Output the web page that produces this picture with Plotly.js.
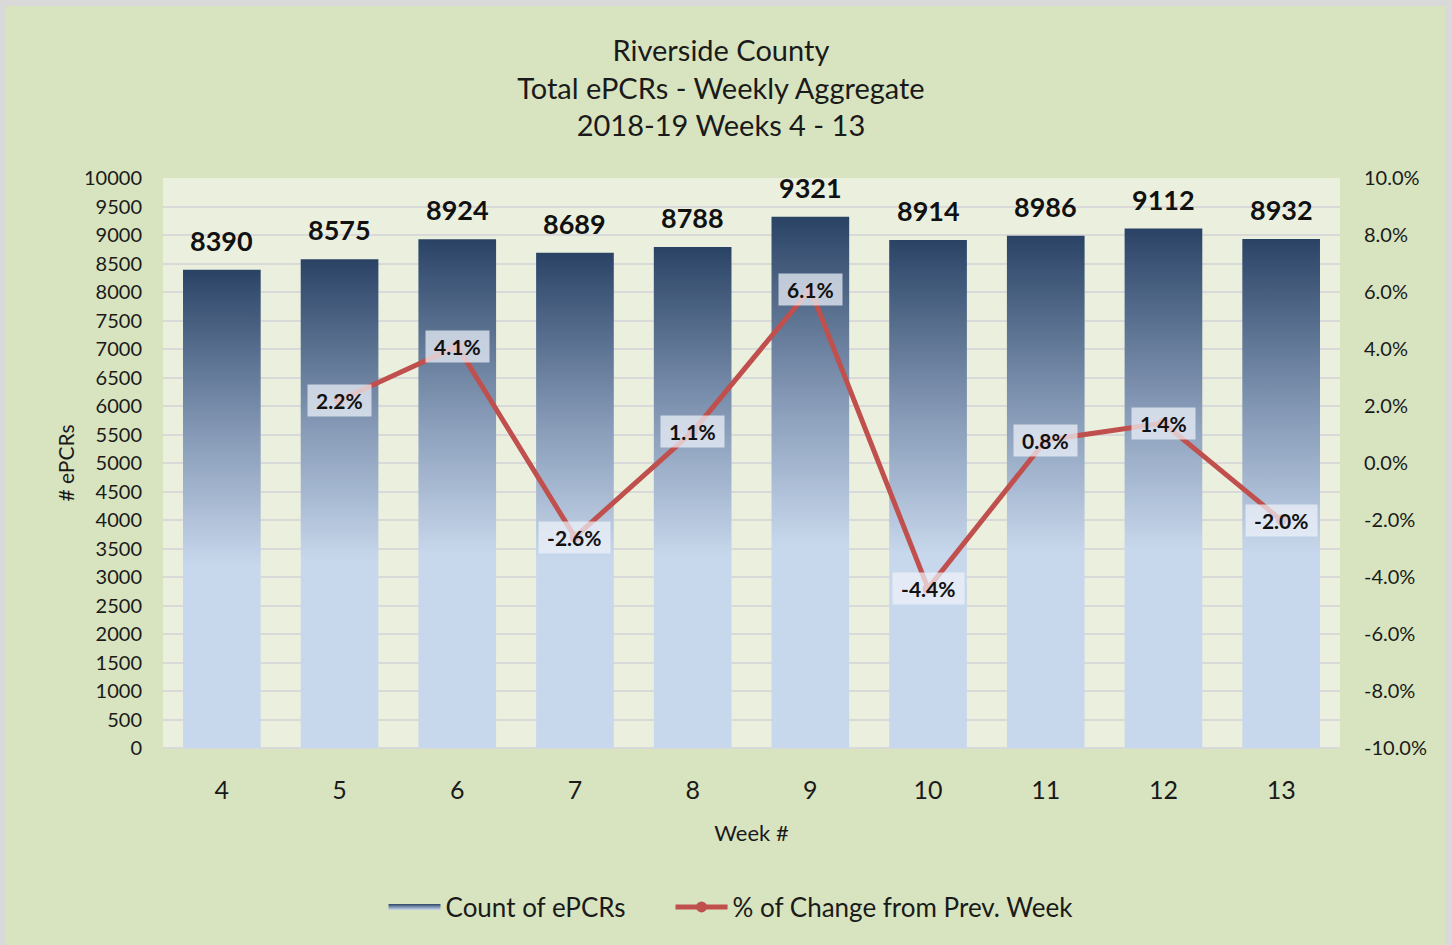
<!DOCTYPE html>
<html>
<head>
<meta charset="utf-8">
<script src="https://cdn.plot.ly/plotly-3.0.1.min.js"></script>
<style>
  html, body { margin: 0; padding: 0; background: #d9d9d9; width: 1452px; height: 945px; overflow: hidden; }
  #chart { position: absolute; left: 6px; top: 6px; width: 1440px; height: 939px; }
</style>
</head>
<body>
<div id="chart"></div>
<script>
const weeks = [4, 5, 6, 7, 8, 9, 10, 11, 12, 13];
const counts = [8390, 8575, 8924, 8689, 8788, 9321, 8914, 8986, 9112, 8932];
const pctChange = [null, 2.2, 4.1, -2.6, 1.1, 6.1, -4.4, 0.8, 1.4, -2.0];
const pctLabels = ['', '2.2%', '4.1%', '-2.6%', '1.1%', '6.1%', '-4.4%', '0.8%', '1.4%', '-2.0%'];
const pctTicks = [-10, -8, -6, -4, -2, 0, 2, 4, 6, 8, 10];

const FONT = 'Lato, "Open Sans", sans-serif';
const halfW = 0.33;
const gradScale = [[0, '#c8d8ec'], [0.45, '#8599b6'], [1, '#2a4365']];
const NB = '\u00a0';

const traces = [];
weeks.forEach((w, i) => {
  const v = counts[i];
  traces.push({
    type: 'scatter',
    mode: 'none',
    x: [w - halfW, w - halfW, w + halfW, w + halfW, w - halfW],
    y: [0, v, v, 0, 0],
    fill: 'toself',
    fillgradient: { type: 'vertical', colorscale: gradScale, start: v * 0.38, stop: v },
    name: 'Count of ePCRs' + NB.repeat(6),
    legendgroup: 'count',
    showlegend: i === 0,
    hoverinfo: 'skip'
  });
});

traces.push({
  type: 'scatter',
  mode: 'lines+markers',
  x: weeks,
  y: pctChange.map(p => p === null ? null : p / 100),
  yaxis: 'y2',
  name: '% of Change from Prev. Week',
  line: { color: '#c0504d', width: 5 },
  marker: { color: '#c0504d', size: 11 },
  hoverinfo: 'skip'
});

const annotations = [];
weeks.forEach((w, i) => {
  annotations.push({
    x: w, y: counts[i], xref: 'x', yref: 'y',
    text: String(counts[i]), showarrow: false,
    yanchor: 'bottom', yshift: 11,
    font: { family: FONT, size: 27, color: '#111111', weight: 'bold' }
  });
  if (pctChange[i] !== null) {
    annotations.push({
      x: w, y: pctChange[i] / 100, xref: 'x', yref: 'y2',
      text: '<b>' + NB + pctLabels[i] + NB + '</b>', showarrow: false,
      bgcolor: 'rgba(238,242,250,0.72)', borderpad: 3,
      font: { family: FONT, size: 21, color: '#111111' }
    });
  }
});

const layout = {
  width: 1440, height: 939,
  paper_bgcolor: '#d8e4bf',
  plot_bgcolor: '#ebf0de',
  margin: { l: 157, r: 106, t: 172, b: 197 },
  showlegend: true,
  hovermode: false,
  title: {
    text: 'Riverside County<br>Total ePCRs - Weekly Aggregate<br>2018-19 Weeks 4 - 13',
    x: 0.4965, xanchor: 'center', y: 0.9415, yanchor: 'top',
    font: { family: FONT, size: 29, color: '#1a1a1a' }
  },
  xaxis: {
    range: [3.5, 13.5],
    tickvals: weeks,
    ticktext: weeks.map(String),
    showgrid: false, zeroline: false, showline: false,
    ticks: '', ticklabelstandoff: 25,
    tickfont: { family: FONT, size: 25, color: '#1a1a1a' },
    title: { text: 'Week #', standoff: 22, font: { family: FONT, size: 22, color: '#1a1a1a' } }
  },
  yaxis: {
    range: [0, 10000], dtick: 500, tick0: 0, tickformat: 'd',
    showgrid: true, gridcolor: '#d9d9d9', gridwidth: 2,
    zeroline: true, zerolinecolor: '#d9d9d9', zerolinewidth: 2,
    showline: false, ticks: '', ticklabelstandoff: 20,
    tickfont: { family: FONT, size: 20, color: '#1a1a1a' },
    title: { text: '# ePCRs', standoff: 3, font: { family: FONT, size: 21, color: '#1a1a1a' } }
  },
  yaxis2: {
    overlaying: 'y', side: 'right',
    range: [-0.1, 0.1],
    tickvals: pctTicks.map(t => t / 100),
    ticktext: pctTicks.map(t => t.toFixed(1) + '%'),
    showgrid: false, zeroline: false, showline: false, ticks: '', ticklabelstandoff: 23,
    tickfont: { family: FONT, size: 20, color: '#1a1a1a' }
  },
  legend: {
    orientation: 'h', x: 0.4826, xanchor: 'center', y: -0.279, yanchor: 'middle',
    bgcolor: 'rgba(0,0,0,0)', itemwidth: 52,
    font: { family: FONT, size: 26, color: '#1a1a1a' }
  },
  annotations: annotations
};

Plotly.newPlot('chart', traces, layout, { displayModeBar: false, staticPlot: true });
</script>
</body>
</html>
